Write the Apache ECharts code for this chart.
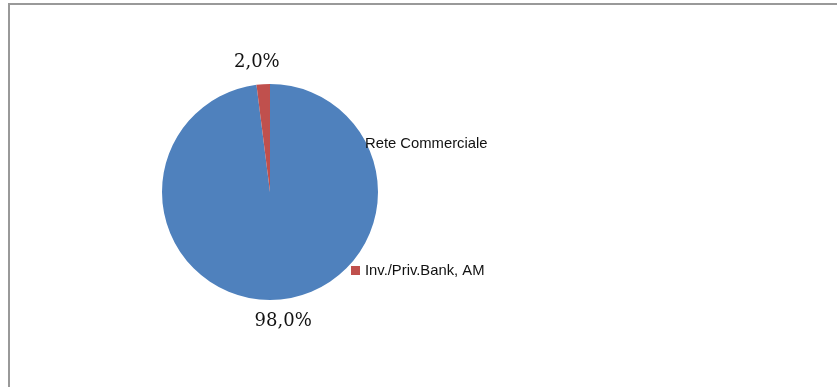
<!DOCTYPE html>
<html>
<head>
<meta charset="utf-8">
<script src="https://cdn.jsdelivr.net/npm/echarts@6/dist/echarts.min.js"></script>
<style>
  html, body { margin: 0; padding: 0; background: #fff; }
  #frame {
    position: absolute; left: 8px; top: 3px; width: 840px; height: 400px;
    border-top: 2px solid #999; border-left: 2px solid #999; box-sizing: border-box;
  }
  #chart { position: absolute; left: 0; top: 0; width: 837px; height: 387px; }
</style>
</head>
<body>
<div id="frame"></div>
<div id="chart"></div>
<script>
// Channel shares
const categories = ['Rete Commerciale', 'Inv./Priv.Bank, AM'];
const shares = [98.0, 2.0];
const colors = ['#4F81BD', '#C0504D'];

const chart = echarts.init(document.getElementById('chart'));

const pieData = categories.map((name, i) => ({
  name: name,
  value: shares[i],
  itemStyle: { color: colors[i] }
}));

const legendBase = {
  orient: 'vertical',
  left: 351,
  padding: 0,
  itemWidth: 9,
  itemHeight: 9,
  icon: 'rect',
  selectedMode: false,
  textStyle: { fontFamily: 'Liberation Sans', fontSize: 14.8, color: '#111', lineHeight: 14 }
};

chart.setOption({
  backgroundColor: 'transparent',
  animation: false,
  legend: [
    Object.assign({}, legendBase, { top: 136, data: [categories[0]] }),
    Object.assign({}, legendBase, { top: 263, data: [categories[1]] })
  ],
  series: [{
    type: 'pie',
    center: [270, 192],
    radius: 108,
    startAngle: 90,
    clockwise: true,
    avoidLabelOverlap: false,
    data: pieData,
    label: {
      show: true,
      position: 'outside',
      formatter: p => p.value.toFixed(1).replace('.', ',') + '%',
      fontFamily: 'DejaVu Serif',
      fontSize: 18,
      color: '#111'
    },
    labelLine: { show: false, length: 22, length2: 0 },
    labelLayout: { align: 'center' },
    emphasis: { disabled: true }
  }]
});
</script>
</body>
</html>
